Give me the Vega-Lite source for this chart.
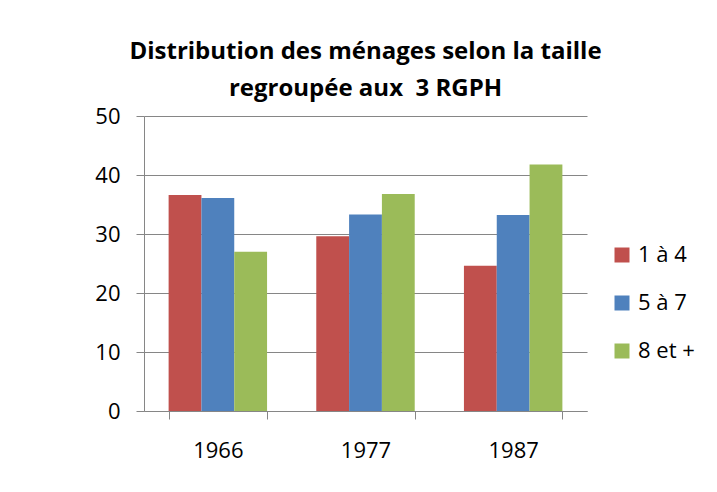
{
  "$schema": "https://vega.github.io/schema/vega-lite/v6.json",
  "width": 443,
  "height": 295,
  "autosize": {"type": "none"},
  "padding": {"left": 144, "top": 116, "right": 130, "bottom": 81},
  "background": "white",
  "title": {
    "text": ["Distribution des ménages selon la taille", "regroupée aux \u00a03 RGPH"],
    "fontSize": 24,
    "fontWeight": "bold",
    "font": "Open Sans",
    "color": "black",
    "anchor": "middle",
    "lineHeight": 37,
    "offset": 4
  },
  "data": {
    "values": [
      {"annee": "1966", "taille": "1 à 4", "valeur": 36.6},
      {"annee": "1966", "taille": "5 à 7", "valeur": 36.1},
      {"annee": "1966", "taille": "8 et +", "valeur": 27.0},
      {"annee": "1977", "taille": "1 à 4", "valeur": 29.6},
      {"annee": "1977", "taille": "5 à 7", "valeur": 33.3},
      {"annee": "1977", "taille": "8 et +", "valeur": 36.8},
      {"annee": "1987", "taille": "1 à 4", "valeur": 24.6},
      {"annee": "1987", "taille": "5 à 7", "valeur": 33.2},
      {"annee": "1987", "taille": "8 et +", "valeur": 41.8}
    ]
  },
  "mark": {"type": "bar"},
  "encoding": {
    "x": {
      "field": "annee",
      "type": "nominal",
      "scale": {"paddingInner": 0.3333, "paddingOuter": 0.1667},
      "axis": {
        "title": null,
        "labelAngle": 0,
        "labelFont": "Open Sans",
        "labelFontSize": 22,
        "labelColor": "black",
        "labelPadding": 21,
        "tickBand": "extent",
        "tickSize": 8,
        "tickColor": "#868686",
        "domainColor": "#868686",
        "grid": false
      }
    },
    "xOffset": {"field": "taille", "type": "nominal"},
    "y": {
      "field": "valeur",
      "type": "quantitative",
      "scale": {"domain": [0, 50]},
      "axis": {
        "title": null,
        "values": [0, 10, 20, 30, 40, 50],
        "labelFont": "Open Sans",
        "labelFontSize": 22,
        "labelColor": "black",
        "labelPadding": 16,
        "tickSize": 8,
        "tickColor": "#868686",
        "domainColor": "#868686",
        "gridColor": "#868686",
        "gridOpacity": 1
      }
    },
    "color": {
      "field": "taille",
      "type": "nominal",
      "scale": {"domain": ["1 à 4", "5 à 7", "8 et +"], "range": ["#C0504D", "#4F81BD", "#9BBB59"]},
      "legend": {
        "title": null,
        "orient": "none",
        "legendX": 467,
        "legendY": 128,
        "symbolType": "square",
        "symbolSize": 225,
        "symbolStrokeWidth": 0,
        "symbolOpacity": 1,
        "labelFont": "Open Sans",
        "labelFontSize": 22,
        "labelColor": "black",
        "labelOffset": 5,
        "rowPadding": 26
      }
    }
  },
  "config": {"view": {"stroke": null}}
}
